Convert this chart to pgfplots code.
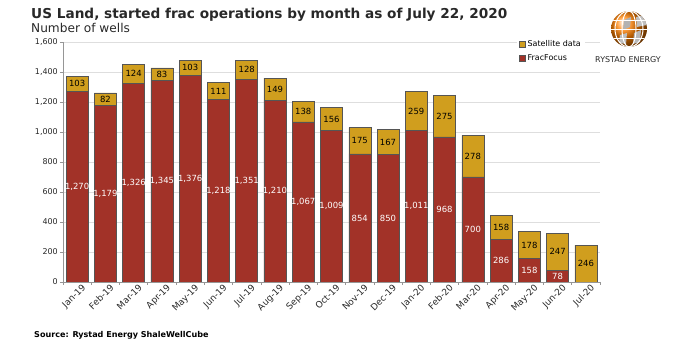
\documentclass[border=0pt]{standalone}
\usepackage{pgfplots}
\pgfplotsset{compat=1.18}
\usepackage{pgfplotstable}
\usepackage{fontspec}
\setmainfont{DejaVu Sans}
\definecolor{ffred}{RGB}{162,50,40}
\definecolor{satgold}{RGB}{208,158,30}
\definecolor{bord}{RGB}{85,85,85}
\definecolor{axgray}{RGB}{150,150,150}
\definecolor{gridc}{RGB}{222,222,222}
\definecolor{txt}{RGB}{40,40,40}
\pgfplotstableread{
x f s
0 1270 103
1 1179 82
2 1326 124
3 1345 83
4 1376 103
5 1218 111
6 1351 128
7 1210 149
8 1067 138
9 1009 156
10 854 175
11 850 167
12 1011 259
13 968 275
14 700 278
15 286 158
16 158 178
17 78 247
18 0 246
}\data
\begin{document}
\begin{tikzpicture}[x=1bp,y=1bp]
\path[use as bounding box] (0bp,0bp) rectangle (700bp,360bp);
\begin{axis}[
  at={(63bp,78bp)}, anchor=south west,
  scale only axis, width=537bp, height=240bp,
  ybar stacked, bar width=22bp,
  xmin=-0.5, xmax=18.5, ymin=0, ymax=1600,
  axis x line*=bottom, axis y line*=left,
  axis line style={draw=axgray, line width=0.6pt},
  ytick={0,200,...,1600},
  ymajorgrids, grid style={draw=gridc, line width=0.6pt},
  tick align=outside, major tick length=3bp,
  tick style={draw=axgray, line width=0.6pt},
  /pgf/number format/.cd, 1000 sep={,}, assume math mode=true, /pgfplots/.cd,
  yticklabel style={font=\fontsize{8}{9}\selectfont, text=txt, inner sep=2pt},
  xtick={-0.5,0.5,...,18.5}, xticklabels={},
  extra x ticks={0,...,18},
  extra x tick labels={Jan-19,Feb-19,Mar-19,Apr-19,May-19,Jun-19,Jul-19,Aug-19,Sep-19,Oct-19,Nov-19,Dec-19,Jan-20,Feb-20,Mar-20,Apr-20,May-20,Jun-20,Jul-20},
  extra x tick style={major tick length=0pt, xticklabel style={rotate=45, anchor=north east, font=\fontsize{9}{10}\selectfont, text=txt, inner sep=1pt, xshift=3bp, yshift=-3bp}},
  legend style={at={(0.972,1.022)}, anchor=north east, fill=white, draw=none,
    font=\fontsize{8}{10}\selectfont, row sep=2.5bp, inner sep=2pt},
  legend cell align=left,
  reverse legend,
  legend image code/.code={\fill[#1] (0bp,-3bp) rectangle (6bp,3bp);},
]
\addplot[fill=ffred, draw=bord, line width=0.5pt] table[x=x,y=f]{\data};
\addlegendentry{FracFocus}
\addplot[fill=satgold, draw=bord, line width=0.5pt] table[x=x,y=s]{\data};
\addlegendentry{Satellite data}
\end{axis}
\begin{axis}[
  at={(63bp,78bp)}, anchor=south west,
  scale only axis, width=537bp, height=240bp,
  xmin=-0.5, xmax=18.5, ymin=0, ymax=1600,
  hide axis, clip=false,
  /pgf/number format/.cd, 1000 sep={,}, assume math mode=true, /pgfplots/.cd,
]
\addplot[draw=none, mark=none, point meta=explicit,
  nodes near coords,
  every node near coord/.style={anchor=center, text=white, font=\fontsize{8.5}{10}\selectfont, inner sep=0pt},
  skip coords between index={18}{19}]
  table[x=x, y expr=\thisrow{f}/2, meta=f]{\data};
\addplot[draw=none, mark=none, point meta=explicit,
  nodes near coords,
  every node near coord/.style={anchor=center, text=black, font=\fontsize{8.5}{10}\selectfont, inner sep=0pt}]
  table[x=x, y expr=\thisrow{f}+\thisrow{s}/2, meta=s]{\data};
\end{axis}
% titles
\node[anchor=base west, inner sep=0pt, text=txt] at (31bp,341bp) {\fontsize{13.7}{16}\selectfont\bfseries US Land, started frac operations by month as of July 22, 2020};
\node[anchor=base west, inner sep=0pt, text=txt] at (31bp,327bp) {\fontsize{12.2}{14}\selectfont Number of wells};
\node[anchor=base west, inner sep=0pt, text=black] at (34bp,23bp) {\fontsize{8.1}{9}\selectfont\bfseries Source: Rystad Energy ShaleWellCube};
% logo
\shade[ball color=orange] (629bp,331bp) circle (18bp);
\begin{scope}
\clip (629bp,331bp) circle (18bp);
\fill[gray!60] (624bp,340bp) -- (631bp,343bp) -- (630bp,333bp) -- (623bp,330bp) -- cycle;
\fill[gray!55] (634bp,327bp) -- (641bp,330bp) -- (640bp,318bp) -- (633bp,316bp) -- cycle;
\fill[gray!50] (636bp,343bp) -- (646bp,345bp) -- (647bp,335bp) -- (637bp,333bp) -- cycle;
\fill[gray!50] (620bp,325bp) -- (627bp,327bp) -- (626bp,316bp) -- (619bp,317bp) -- cycle;
\fill[gray!45] (640bp,352bp) -- (650bp,350bp) -- (648bp,343bp) -- (639bp,345bp) -- cycle;
\draw[white, line width=1pt] (629bp,331bp) ellipse (7bp and 18bp);
\draw[white, line width=1pt] (629bp,331bp) ellipse (14bp and 18bp);
\draw[white, line width=0.9pt] (611bp,331bp) -- (647bp,331bp);
\draw[white, line width=0.9pt] (612bp,340bp) -- (646bp,340bp);
\draw[white, line width=0.9pt] (612bp,322bp) -- (646bp,322bp);
\end{scope}
\node[anchor=base, inner sep=0pt, text=txt] at (628bp,297bp) {\fontsize{8}{9}\selectfont RYSTAD ENERGY};
\end{tikzpicture}
\end{document}
